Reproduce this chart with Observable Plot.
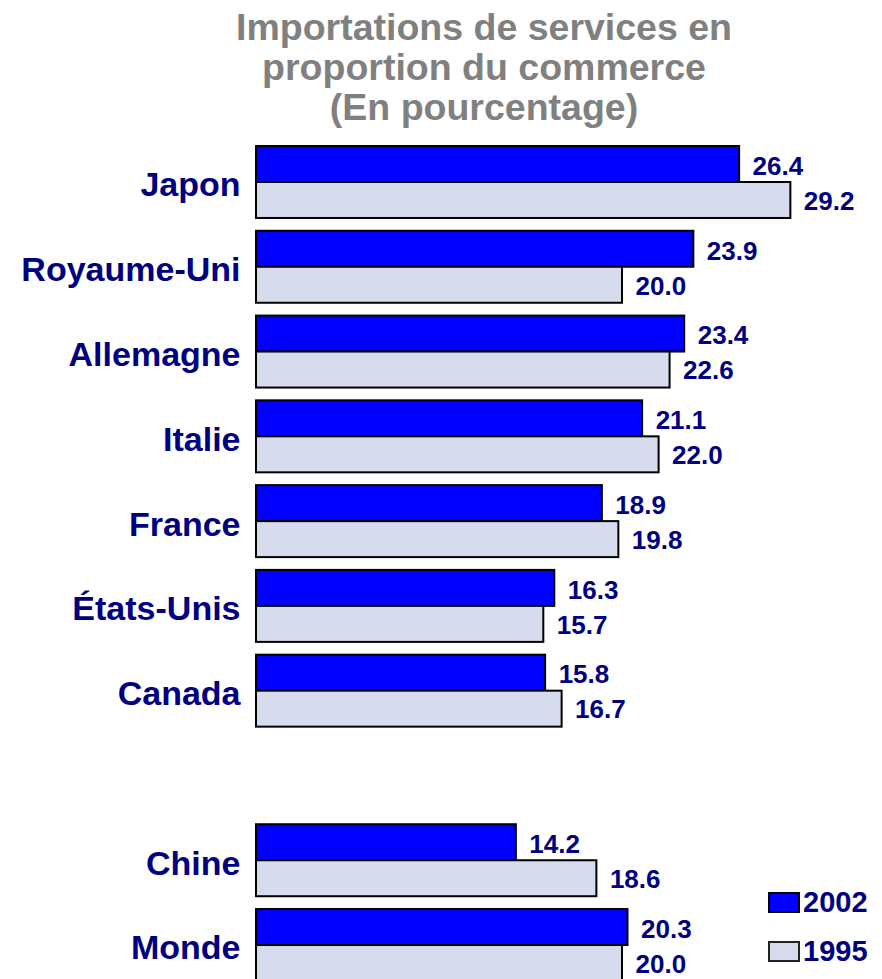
<!DOCTYPE html>
<html>
<head>
<meta charset="utf-8">
<script src="https://cdn.jsdelivr.net/npm/d3@7"></script>
<script src="https://cdn.jsdelivr.net/npm/@observablehq/plot@0.6"></script>
<style>
  html, body { margin: 0; padding: 0; background: #fff; overflow: hidden; width: 882px; height: 979px; }
  body { position: relative; font-family: "Liberation Sans", Arial, sans-serif; }
  #title { position: absolute; left: 86px; top: 7px; width: 796px; text-align: center;
    font-weight: bold; font-size: 37.5px; line-height: 40px; color: #808080; }
  #chart { position: absolute; left: 0; top: 125px; }
  .legend { position: absolute; left: 768px; font-weight: bold; font-size: 29px; color: #000080; line-height: 28px; display: flex; align-items: center; }
  .legend .sw { width: 28px; height: 17px; border: 2px solid #000; margin-right: 3px; }
</style>
</head>
<body>
<div id="title">Importations de services en<br>proportion du commerce<br>(En pourcentage)</div>
<div id="chart"></div>
<div class="legend" style="top:888px"><div class="sw" style="background:#0000ff"></div>2002</div>
<div class="legend" style="top:937px"><div class="sw" style="background:#d6dcee;border-color:#222"></div>1995</div>
<script>
const countries = ["Japon", "Royaume-Uni", "Allemagne", "Italie", "France", "États-Unis", "Canada", "Chine", "Monde"];
const values2002 = [26.4, 23.9, 23.4, 21.1, 18.9, 16.3, 15.8, 14.2, 20.3];
const values1995 = [29.2, 20.0, 22.6, 22.0, 19.8, 15.7, 16.7, 18.6, 20.0];
const spacer = " ";
const yDomain = [...countries.slice(0, 7), spacer, ...countries.slice(7)];

const d2002 = countries.map((c, i) => ({country: c, value: values2002[i]}));
const d1995 = countries.map((c, i) => ({country: c, value: values1995[i]}));
const fmt = d3.format(".1f");

const chart = Plot.plot({
  width: 882,
  height: 856,
  marginTop: 21,
  marginBottom: 0,
  marginLeft: 256,
  marginRight: 77,
  style: {fontFamily: "Liberation Sans, Arial, sans-serif", background: "transparent"},
  x: {domain: [0, 30], axis: null},
  y: {domain: yDomain, paddingInner: 0.151, paddingOuter: 0, round: false, label: null},
  marks: [
    Plot.axisY({tickSize: 0, tickPadding: 16, dy: 3, label: null, fontSize: 34, fontWeight: "bold", fill: "#000080",
      tickFormat: d => d.trim()}),
    Plot.barX(d2002, {x: "value", y: "country", fill: "#0000ff", stroke: "#000", strokeWidth: 2, insetBottom: 36}),
    Plot.barX(d1995, {x: "value", y: "country", fill: "#d6dcee", stroke: "#000", strokeWidth: 2, insetTop: 36}),
    Plot.text(d2002, {x: "value", y: "country", text: d => fmt(d.value), dx: 13, dy: -16, textAnchor: "start",
      fontSize: 26, fontWeight: "bold", fill: "#000080"}),
    Plot.text(d1995, {x: "value", y: "country", text: d => fmt(d.value), dx: 13, dy: 19, textAnchor: "start",
      fontSize: 26, fontWeight: "bold", fill: "#000080"})
  ]
});
document.getElementById("chart").appendChild(chart);
</script>
</body>
</html>
